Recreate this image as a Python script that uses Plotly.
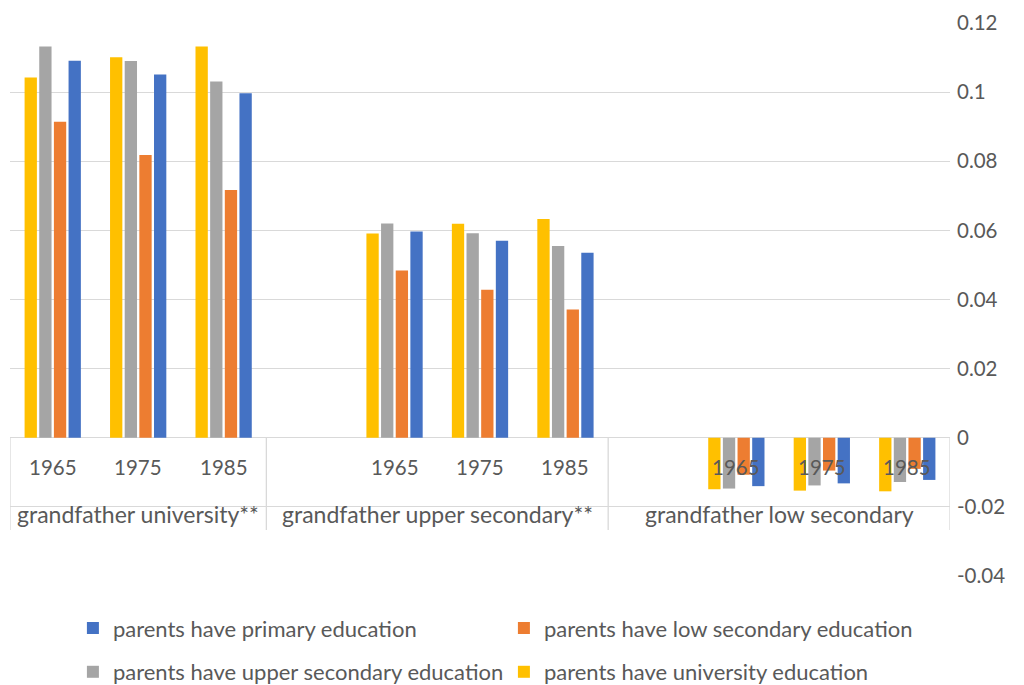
import plotly.graph_objects as go

# Category slots: a blank slot opens each group after the first
groups = ["grandfather university**", "grandfather upper secondary**", "grandfather low secondary"]
group_spans = [(0, 2), (3, 6), (7, 10)]
years = ["1965", "1975", "1985", "", "1965", "1975", "1985", "", "1965", "1975", "1985"]

# Estimated effects by parents' education
university = [0.1042, 0.1101, 0.1132, None, 0.0591, 0.0619, 0.0633, None, -0.0149, -0.0153, -0.0155]
upper_secondary = [0.1132, 0.1090, 0.1031, None, 0.0620, 0.0592, 0.0555, None, -0.0147, -0.0138, -0.0128]
low_secondary = [0.0914, 0.0818, 0.0717, None, 0.0484, 0.0428, 0.0371, None, -0.0107, -0.0095, -0.0090]
primary = [0.1091, 0.1051, 0.0997, None, 0.0597, 0.0570, 0.0535, None, -0.0140, -0.0132, -0.0122]

y_ticks = [-0.04, -0.02, 0, 0.02, 0.04, 0.06, 0.08, 0.1, 0.12]
y_tick_text = ["-0.04", "-0.02", "0", "0.02", "0.04", "0.06", "0.08", "0.1", "0.12"]

FONT = "Lato"
TEXT = "#595959"
GRID = "#d9d9d9"

series = [
    ("parents have university education", university, "#FFC000", "legend2"),
    ("parents have upper secondary education", upper_secondary, "#A5A5A5", "legend2"),
    ("parents have low secondary education", low_secondary, "#ED7D31", "legend"),
    ("parents have primary education", primary, "#4472C4", "legend"),
]

x = list(range(len(years)))

fig = go.Figure()
for name, vals, color, leg in series:
    fig.add_trace(go.Bar(x=x, y=vals, name=name, marker=dict(color=color, line=dict(width=0)),
                         legend=leg))

# Year labels below the zero line
for i, yr in enumerate(years):
    if yr:
        fig.add_annotation(x=i, y=-0.0086, text=yr, showarrow=False, xref="x", yref="y",
                           font=dict(family=FONT, size=20.5, color=TEXT))

# Group labels and separators of the category table
sep_bottom = -0.0267
for g, (a, b) in zip(groups, group_spans):
    fig.add_annotation(x=(a + b) / 2, y=-0.0222, text=g, showarrow=False, xref="x", yref="y",
                       font=dict(family=FONT, size=23, color=TEXT))
edges = [group_spans[0][0] - 0.5] + [b + 0.5 for _, b in group_spans]
for e in edges:
    fig.add_shape(type="line", x0=e, x1=e, y0=0, y1=sep_bottom, xref="x", yref="y",
                  line=dict(color=GRID, width=1.3), layer="below")

legend_font = dict(family=FONT, size=22, color=TEXT)

fig.update_layout(
    width=1024, height=685,
    margin=dict(l=10, r=74, t=19, b=109),
    paper_bgcolor="white", plot_bgcolor="white",
    barmode="group", bargap=0.314, bargroupgap=0.16,
    font=dict(family=FONT, size=20, color=TEXT),
    xaxis=dict(range=[-0.5, len(years) - 0.5], showticklabels=False, showgrid=False,
               zeroline=False, showline=False, ticks=""),
    yaxis=dict(side="right", range=[-0.04, 0.12], tickvals=y_ticks, ticktext=y_tick_text,
               showgrid=True, gridcolor=GRID, gridwidth=1.3, zeroline=True,
               zerolinecolor=GRID, zerolinewidth=1.3, showline=False, ticks="",
               ticklabelstandoff=6,
               tickfont=dict(family=FONT, size=20.5, color=TEXT)),
    legend=dict(orientation="h", traceorder="reversed", xref="container", yref="container",
                x=0.0712, y=0.083, xanchor="left", yanchor="middle",
                entrywidth=386, entrywidthmode="pixels", font=legend_font),
    legend2=dict(orientation="h", traceorder="reversed", xref="container", yref="container",
                 x=0.0712, y=0.019, xanchor="left", yanchor="middle",
                 entrywidth=386, entrywidthmode="pixels", font=legend_font),
)

fig.write_html("out.html")
